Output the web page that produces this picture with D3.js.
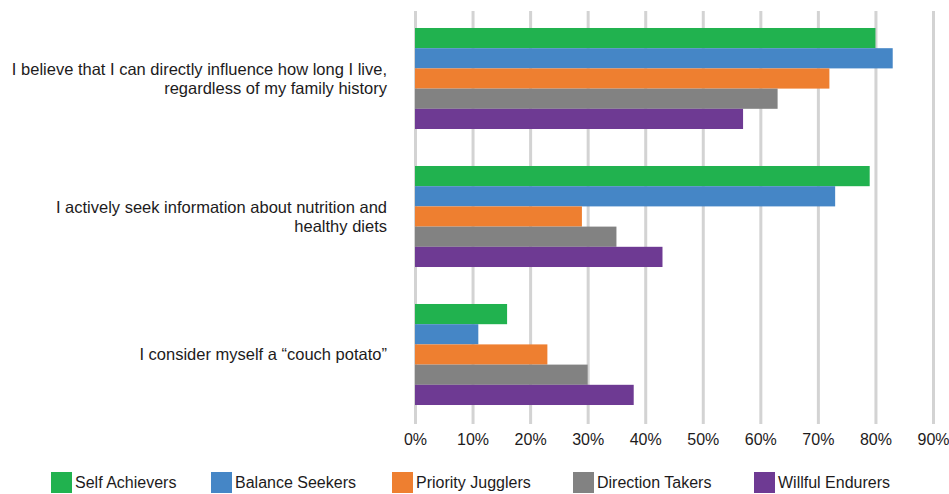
<!DOCTYPE html>
<html>
<head>
<meta charset="utf-8">
<script src="https://cdn.jsdelivr.net/npm/d3@7"></script>
<style>
  body { margin: 0; background: #fff; }
  svg { display: block; font-family: "Liberation Sans", Arial, Helvetica, sans-serif; }
  .grade line { stroke: #d3d3d3; stroke-width: 3; }
  .grade text { fill: #1d1b1c; font-size: 16px; }
  .rotuloCategoria { fill: #1d1b1c; font-size: 16.5px; }
  .legenda text { fill: #1d1b1c; font-size: 16px; }
</style>
</head>
<body>
<svg id="grafico"></svg>
<script>

//Dados do gráfico
var categorias = [
    ['I believe that I can directly influence how long I live,', 'regardless of my family history'],
    ['I actively seek information about nutrition and', 'healthy diets'],
    ['I consider myself a \u201Ccouch potato\u201D']
];
var series = ['Self Achievers', 'Balance Seekers', 'Priority Jugglers', 'Direction Takers', 'Willful Endurers'];
var cores = ['#21b24f', '#4586c6', '#ee7f30', '#828282', '#6e3a93'];

var selfAchievers    = [80, 79, 16];
var balanceSeekers   = [83, 73, 11];
var priorityJugglers = [72, 29, 23];
var directionTakers  = [63, 35, 30];
var willfulEndurers  = [57, 43, 38];

var marcasEixo = [0, 10, 20, 30, 40, 50, 60, 70, 80, 90];

//Montagem da tabela a partir das listas
var valoresSeries = [selfAchievers, balanceSeekers, priorityJugglers, directionTakers, willfulEndurers];
var dados = categorias.map((c, i) => ({
    chave: i,
    linhas: c,
    valores: series.map((s, j) => ({ serie: s, valor: valoresSeries[j][i] }))
}));

//Seleção do elemento SVG
var largura = 949, altura = 494;
var svg = d3.select('#grafico')
            .attr('width', largura)
            .attr('height', altura);

//Área de plotagem
var esquerda = 415, direita = 933, superior = 11, inferior = 424;

//Escalas
var x = d3.scaleLinear()
          .domain([0, 90])
          .range([esquerda, direita]);
var y = d3.scaleBand()
          .domain(dados.map(d => d.chave))
          .range([9.5, 423.5])
          .paddingInner(0.268)
          .paddingOuter(0.134);
var ySerie = d3.scaleBand()
          .domain(series)
          .range([0, y.bandwidth()]);
var cor = d3.scaleOrdinal()
          .domain(series)
          .range(cores);

//Linhas de grade e rótulos do eixo X
var grade = d3.axisBottom(x)
              .tickValues(marcasEixo)
              .tickSize(-(inferior - superior))
              .tickPadding(10)
              .tickFormat(d => d + '%');
svg.append('g')
   .classed('grade', true)
   .attr('transform', 'translate(0,' + inferior + ')')
   .call(grade)
   .call(g => g.select('.domain').remove())
   .call(g => g.selectAll('text').attr('font-family', null).attr('font-size', null));

//Barras
var grupos = svg.selectAll('.grupo')
                .data(dados)
                .enter()
                .append('g')
                .classed('grupo', true)
                .attr('transform', d => 'translate(0,' + y(d.chave) + ')');
grupos.selectAll('rect')
      .data(d => d.valores)
      .enter()
      .append('rect')
      .attr('x', x(0))
      .attr('y', d => ySerie(d.serie))
      .attr('width', d => x(d.valor) - x(0))
      .attr('height', ySerie.bandwidth())
      .attr('fill', d => cor(d.serie));

//Rótulos das categorias
var rotulos = svg.selectAll('.rotuloCategoria')
                 .data(dados)
                 .enter()
                 .append('text')
                 .classed('rotuloCategoria', true)
                 .style('text-anchor', 'end');
rotulos.each(function(d) {
    var meio = y(d.chave) + y.bandwidth() / 2;
    var n = d.linhas.length;
    d3.select(this).selectAll('tspan')
      .data(d.linhas)
      .enter()
      .append('tspan')
      .attr('x', 387)
      .attr('y', (l, i) => meio + (i - (n - 1) / 2) * 19)
      .attr('dy', '0.35em')
      .text(l => l);
});

//Legenda (posições dos itens)
var posLegenda = [51, 211, 392, 573, 754];
var legenda = svg.append('g').classed('legenda', true);
var itens = legenda.selectAll('g')
                   .data(series)
                   .enter()
                   .append('g')
                   .attr('transform', (s, i) => 'translate(' + posLegenda[i] + ',472)');
itens.append('rect')
     .attr('width', 21)
     .attr('height', 21)
     .attr('fill', s => cor(s));
itens.append('text')
     .attr('x', 24)
     .attr('y', 10.5)
     .attr('dy', '0.35em')
     .text(s => s);

</script>
</body>
</html>
